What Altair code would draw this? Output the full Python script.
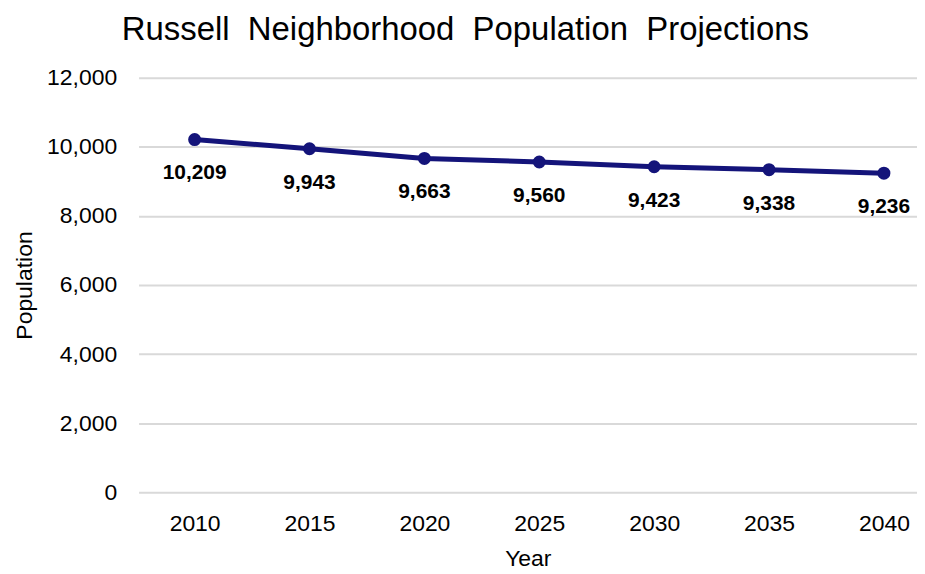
import altair as alt
import pandas as pd

years = [2010, 2015, 2020, 2025, 2030, 2035, 2040]
population = [10209, 9943, 9663, 9560, 9423, 9338, 9236]

df = pd.DataFrame({"Year": years, "Population": population})

FONT = "Liberation Sans"
NAVY = "#14147a"

x = alt.X("Year:Q",
          scale=alt.Scale(domain=[2007.56, 2041.44], nice=False, zero=False),
          axis=alt.Axis(values=years, format="d", grid=False, domain=False, ticks=False,
                        labelFontSize=23, labelPadding=20, labelColor="#000000",
                        titleFontSize=23, titleFontWeight="normal", titleColor="#000000",
                        titlePadding=12, labelFont=FONT, titleFont=FONT))
y = alt.Y("Population:Q",
          scale=alt.Scale(domain=[0, 12000], nice=False),
          axis=alt.Axis(values=[0, 2000, 4000, 6000, 8000, 10000, 12000], format=",.0f",
                        domain=False, ticks=False, gridColor="#d9d9d9", gridWidth=2,
                        labelFontSize=23, labelPadding=22, labelColor="#000000",
                        titleFontSize=23, titleFontWeight="normal", titleColor="#000000",
                        titlePadding=10, labelFont=FONT, titleFont=FONT))

line = alt.Chart(df).mark_line(color=NAVY, strokeWidth=5).encode(x=x, y=y)
pts = alt.Chart(df).mark_point(color=NAVY, filled=True, size=170, opacity=1).encode(x=x, y=y)
labels = alt.Chart(df).mark_text(dy=34, fontSize=21, fontWeight="bold", font=FONT,
                                 color="#000000", baseline="middle").encode(
    x=x, y=y, text=alt.Text("Population:Q", format=","))

chart = (line + pts + labels).properties(
    width=781, height=416,
    title=alt.Title("Russell\u00a0\u00a0Neighborhood\u00a0\u00a0Population\u00a0\u00a0Projections",
                    fontSize=33, font=FONT, fontWeight="normal", color="#000000",
                    anchor="middle", frame="bounds", offset=20),
    padding={"left": 5, "top": 5, "right": 0, "bottom": 0},
).configure_view(stroke=None)

chart.save("out.html", embed_options={"renderer": "svg", "actions": False})
